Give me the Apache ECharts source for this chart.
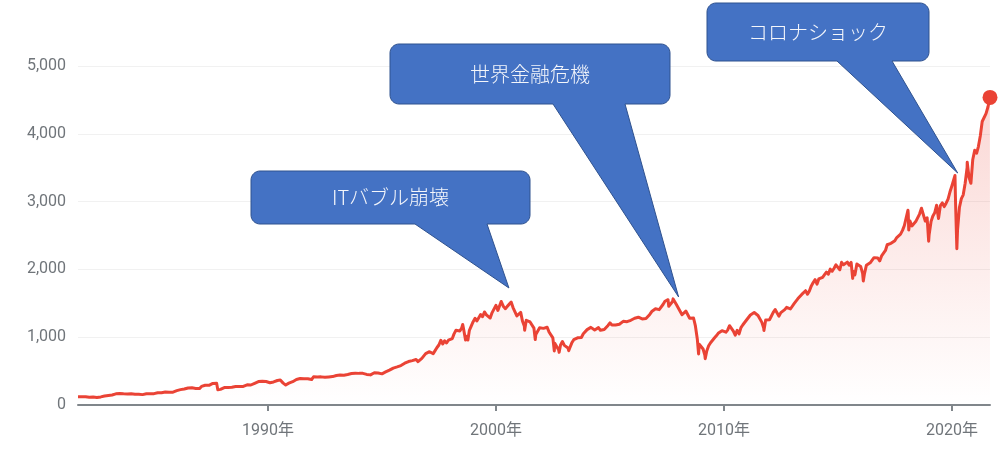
<!DOCTYPE html>
<html>
<head>
<meta charset="utf-8">
<script src="https://cdn.jsdelivr.net/npm/echarts@6/dist/echarts.min.js"></script>
<style>
  html, body { margin: 0; padding: 0; background: #ffffff; }
  #chart { width: 1000px; height: 449px; }
</style>
</head>
<body>
<div id="chart"></div>
<script>
// S&P 500 month-end closes, starting August 1981
const firstYear = 1981;
const firstMonth = 8; // August
const closes1981 = [122.79, 116.18, 121.89, 126.35, 122.55];
const closes1980s = [
  120.40, 113.11, 111.96, 116.44, 111.88, 109.61, 107.09, 119.51, 120.42, 133.71, 138.54, 140.64,
  145.30, 148.06, 152.96, 164.42, 162.39, 168.11, 162.56, 164.40, 166.07, 163.55, 166.40, 164.93,
  163.41, 157.06, 159.18, 160.05, 150.55, 153.18, 150.66, 166.68, 166.10, 166.09, 163.58, 167.24,
  179.63, 181.18, 180.66, 179.83, 189.55, 191.85, 190.92, 188.63, 182.08, 189.82, 202.17, 211.28,
  211.78, 226.92, 238.90, 235.52, 247.35, 250.84, 236.12, 252.93, 231.32, 243.98, 249.22, 242.17,
  274.08, 284.20, 291.70, 288.36, 290.10, 304.00, 318.66, 329.80, 321.83, 251.79, 230.30, 247.08,
  257.07, 267.82, 258.89, 261.33, 262.16, 273.50, 272.02, 261.52, 271.91, 278.97, 273.70, 277.72,
  297.47, 288.86, 294.87, 309.64, 320.52, 317.98, 346.08, 351.45, 349.15, 340.36, 345.99, 353.40
];
const closes1990s = [
  329.08, 331.89, 339.94, 330.80, 361.23, 358.02, 356.15, 322.56, 306.05, 304.00, 322.22, 330.22,
  343.93, 367.07, 375.22, 375.35, 389.83, 371.16, 387.81, 395.43, 387.86, 392.45, 375.22, 417.09,
  408.79, 412.70, 403.69, 414.95, 415.35, 408.14, 424.21, 414.03, 417.80, 418.68, 431.35, 435.71,
  438.78, 443.38, 451.67, 440.19, 450.19, 450.53, 448.13, 463.56, 458.93, 467.83, 461.79, 466.45,
  481.61, 467.14, 445.77, 450.91, 456.50, 444.27, 458.26, 475.49, 462.69, 472.35, 453.69, 459.27,
  470.42, 487.39, 500.71, 514.71, 533.40, 544.75, 562.06, 561.88, 584.41, 581.50, 605.37, 615.93,
  636.02, 640.43, 645.50, 654.17, 669.12, 670.63, 639.95, 651.99, 687.33, 705.27, 757.02, 740.74,
  786.16, 790.82, 757.12, 801.34, 848.28, 885.14, 954.31, 899.47, 947.28, 914.62, 955.40, 970.43,
  980.28, 1049.34, 1101.75, 1111.75, 1090.82, 1133.84, 1120.67, 957.28, 1017.01, 1098.67, 1163.63, 1229.23,
  1279.64, 1238.33, 1286.37, 1335.18, 1301.84, 1372.71, 1328.72, 1320.41, 1282.71, 1362.93, 1388.91, 1469.25
];
const closes2000s = [
  1394.46, 1366.42, 1498.58, 1452.43, 1420.60, 1454.60, 1430.83, 1517.68, 1436.51, 1429.40, 1314.95, 1320.28,
  1366.01, 1239.94, 1160.33, 1249.46, 1255.82, 1224.38, 1211.23, 1133.58, 1040.94, 1059.78, 1139.45, 1148.08,
  1130.20, 1106.73, 1147.39, 1076.92, 1067.14, 989.82, 911.62, 916.07, 815.28, 885.76, 936.31, 879.82,
  855.70, 841.15, 848.18, 916.92, 963.59, 974.50, 990.31, 1008.01, 995.97, 1050.71, 1058.20, 1111.92,
  1131.13, 1144.94, 1126.21, 1107.30, 1120.68, 1140.84, 1101.72, 1104.24, 1114.58, 1130.20, 1173.82, 1211.92,
  1181.27, 1203.60, 1180.59, 1156.85, 1191.50, 1191.33, 1234.18, 1220.33, 1228.81, 1207.01, 1249.48, 1248.29,
  1280.08, 1280.66, 1294.87, 1310.61, 1270.09, 1270.20, 1276.66, 1303.82, 1335.85, 1377.94, 1400.63, 1418.30,
  1438.24, 1406.82, 1420.86, 1482.37, 1530.62, 1503.35, 1455.27, 1473.99, 1526.75, 1549.38, 1481.14, 1468.36,
  1378.55, 1330.63, 1322.70, 1385.59, 1400.38, 1280.00, 1267.38, 1282.83, 1166.36, 968.75, 896.24, 903.25,
  825.88, 735.09, 797.87, 872.81, 919.14, 919.32, 987.48, 1020.62, 1057.08, 1036.19, 1095.63, 1115.10
];
const closes2010s = [
  1073.87, 1104.49, 1169.43, 1186.69, 1089.41, 1030.71, 1101.60, 1049.33, 1141.20, 1183.26, 1180.55, 1257.64,
  1286.12, 1327.22, 1325.83, 1363.61, 1345.20, 1320.64, 1292.28, 1218.89, 1131.42, 1253.30, 1246.96, 1257.60,
  1312.41, 1365.68, 1408.47, 1397.91, 1310.33, 1362.16, 1379.32, 1406.58, 1440.67, 1412.16, 1416.18, 1426.19,
  1498.11, 1514.68, 1569.19, 1597.57, 1630.74, 1606.28, 1685.73, 1632.97, 1681.55, 1756.54, 1805.81, 1848.36,
  1782.59, 1859.45, 1872.34, 1883.95, 1923.57, 1960.23, 1930.67, 2003.37, 1972.29, 2018.05, 2067.56, 2058.90,
  1994.99, 2104.50, 2067.89, 2085.51, 2107.39, 2063.11, 2103.84, 1972.18, 1920.03, 2079.36, 2080.41, 2043.94,
  1940.24, 1932.23, 2059.74, 2065.30, 2096.95, 2098.86, 2173.60, 2170.95, 2168.27, 2126.15, 2198.81, 2238.83,
  2278.87, 2363.64, 2362.72, 2384.20, 2411.80, 2423.41, 2470.30, 2471.65, 2519.36, 2575.26, 2647.58, 2673.61,
  2823.81, 2713.83, 2640.87, 2648.05, 2705.27, 2718.37, 2816.29, 2901.52, 2913.98, 2711.74, 2760.17, 2506.85,
  2704.10, 2784.49, 2834.40, 2945.83, 2752.06, 2941.76, 2980.38, 2926.46, 2976.74, 3037.56, 3140.98, 3230.78
];
const closes2020s = [
  3225.52, 2954.22, 2584.59, 2912.43, 3044.31, 3100.29, 3271.12, 3500.31, 3363.00, 3269.96, 3621.63, 3756.07,
  3714.24, 3811.15, 3972.89, 4181.17, 4204.11, 4297.50, 4395.26, 4522.68
];

// Notable highs and lows between month ends
const turningPoints = [
  ['1987-08-25', 336.8], ['1987-10-19', 224.8], ['1987-12-04', 223.9],
  ['1990-07-16', 369.0], ['1990-10-11', 295.5],
  ['1998-07-17', 1186.8], ['1998-10-08', 959.4],
  ['2000-03-24', 1527.5], ['2000-09-01', 1520.8],
  ['2001-04-04', 1103.3], ['2001-09-21', 965.8],
  ['2002-07-23', 797.7], ['2002-10-09', 776.8], ['2003-03-11', 800.7],
  ['2007-07-19', 1553.1], ['2007-10-09', 1565.2],
  ['2008-11-20', 752.4], ['2009-03-06', 683.0],
  ['2010-07-02', 1022.6], ['2011-10-03', 1099.2],
  ['2015-08-25', 1867.6], ['2016-02-11', 1829.1],
  ['2018-01-26', 2872.9], ['2018-02-08', 2581.0],
  ['2018-09-20', 2930.8], ['2018-12-24', 2416.6],
  ['2020-02-19', 3386.2], ['2020-03-20', 2304.9], ['2020-09-02', 3580.8],
  ['2021-09-02', 4537.0]
];

// Decade ticks on the date axis
const tickYears = [1990, 2000, 2010, 2020];
const yTicks = { min: 0, max: 5000, step: 1000 };

// Callouts: label, the date/value the pointer reaches, box placement in pixels
const calloutLabels = ['ITバブル崩壊', '世界金融危機', 'コロナショック'];
const calloutAnchors = [['2000-07-26', 1726], ['2008-01-05', 1593], ['2020-04-02', 3422]];
const calloutBoxes = [
  { x: 251, y: 171, w: 279, h: 53, tailL: 415, tailR: 487 },
  { x: 390, y: 44, w: 280, h: 60, tailL: 553, tailR: 625 },
  { x: 707, y: 3, w: 222, h: 58, tailL: 837, tailR: 892 }
];

function parseDay(s) {
  const p = s.split('-').map(Number);
  return new Date(p[0], p[1] - 1, p[2]).getTime();
}

// Assemble month-end points, then merge the turning points in date order
const monthly = [].concat(closes1981, closes1980s, closes1990s, closes2000s, closes2010s, closes2020s);
const points = monthly.map(function (v, i) {
  const m = firstMonth - 1 + i;
  const y = firstYear + Math.floor(m / 12);
  return [new Date(y, (m % 12) + 1, 0).getTime(), v];
});
turningPoints.forEach(function (tp) { points.push([parseDay(tp[0]), tp[1]]); });
points.sort(function (a, b) { return a[0] - b[0]; });
const firstT = points[0][0];
const lastPoint = points[points.length - 1];

const tickTimes = tickYears.map(function (y) { return new Date(y, 0, 1).getTime(); });
const red = '#ea4335';
const labelGray = '#70757a';

const chart = echarts.init(document.getElementById('chart'), null, { renderer: 'canvas' });

chart.setOption({
  animation: false,
  backgroundColor: '#ffffff',
  grid: { left: 78, right: 10, top: 66, bottom: 44 },
  xAxis: {
    type: 'value',
    min: firstT,
    max: lastPoint[0],
    axisLine: { lineStyle: { color: '#80868b', width: 2 } },
    axisTick: { show: true, customValues: tickTimes, length: 6, lineStyle: { color: '#80868b', width: 2 } },
    axisLabel: {
      customValues: tickTimes,
      formatter: function (v) { return new Date(v).getFullYear() + '年'; },
      color: labelGray,
      fontSize: 16,
      fontFamily: 'Roboto, "Noto Sans CJK JP", sans-serif',
      margin: 18
    },
    splitLine: { show: false }
  },
  yAxis: {
    type: 'value',
    min: yTicks.min,
    max: yTicks.max,
    interval: yTicks.step,
    axisLine: { show: false },
    axisTick: { show: false },
    axisLabel: {
      formatter: function (v) { return v.toLocaleString('en-US'); },
      color: labelGray,
      fontSize: 16,
      fontFamily: 'Roboto, sans-serif',
      margin: 12
    },
    splitLine: { lineStyle: { color: '#f1f1f1', width: 1 } }
  },
  series: [
    {
      type: 'line',
      data: points,
      showSymbol: false,
      lineStyle: { color: red, width: 3, join: 'round' },
      areaStyle: {
        color: new echarts.graphic.LinearGradient(0, 0, 0, 1, [
          { offset: 0, color: 'rgba(234, 67, 53, 0.30)' },
          { offset: 1, color: 'rgba(234, 67, 53, 0.0)' }
        ])
      },
      z: 2
    },
    {
      type: 'scatter',
      data: [lastPoint],
      symbolSize: 15,
      itemStyle: { color: red, opacity: 1 },
      z: 3
    }
  ]
});

// Rounded box with a pointer tail, as one outline
function calloutOutline(b, tip, r) {
  const pts = [];
  function arc(cx, cy, a0, a1) {
    const steps = 8;
    for (let i = 0; i <= steps; i++) {
      const a = (a0 + (a1 - a0) * i / steps) * Math.PI / 180;
      pts.push([cx + r * Math.cos(a), cy + r * Math.sin(a)]);
    }
  }
  arc(b.x + b.w - r, b.y + r, -90, 0);
  arc(b.x + b.w - r, b.y + b.h - r, 0, 90);
  pts.push([b.tailR, b.y + b.h]);
  pts.push(tip);
  pts.push([b.tailL, b.y + b.h]);
  arc(b.x + r, b.y + b.h - r, 90, 180);
  arc(b.x + r, b.y + r, 180, 270);
  return pts;
}

const graphics = [];
calloutLabels.forEach(function (label, i) {
  const b = calloutBoxes[i];
  const a = calloutAnchors[i];
  const tip = chart.convertToPixel({ gridIndex: 0 }, [parseDay(a[0]), a[1]]);
  graphics.push({
    type: 'polygon',
    shape: { points: calloutOutline(b, tip, 9) },
    style: { fill: '#4472c4', stroke: '#2f528f', lineWidth: 1 },
    z: 10
  });
  graphics.push({
    type: 'text',
    x: b.x + b.w / 2,
    y: b.y + b.h / 2,
    style: {
      text: label,
      align: 'center',
      verticalAlign: 'middle',
      fill: '#f4f6fb',
      fontSize: 20,
      fontWeight: 300,
      fontFamily: '"Noto Sans CJK JP", sans-serif'
    },
    z: 11
  });
});
chart.setOption({ graphic: graphics });
</script>
</body>
</html>
